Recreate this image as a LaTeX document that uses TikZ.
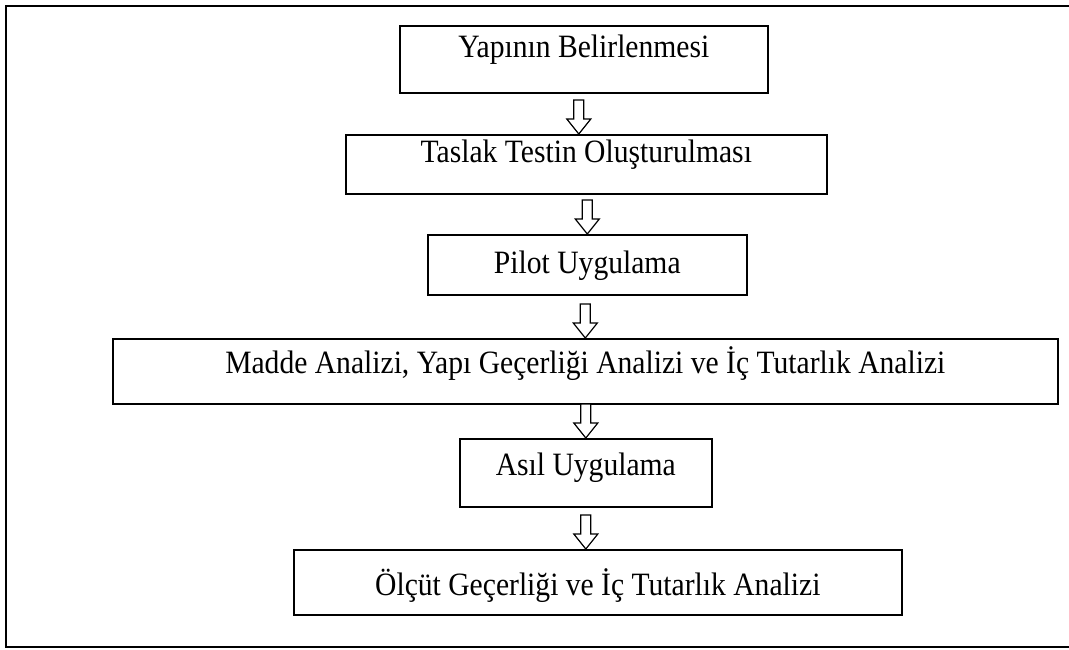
\documentclass[tikz,border=0pt]{standalone}
\usepackage{fontspec}
\setmainfont{Liberation Serif}
\usetikzlibrary{positioning}
\newcommand{\tallline}[1]{\scalebox{1}[1.1]{#1}}

\begin{document}
\begin{tikzpicture}[x=0.5pt, y=-0.5pt,
		stage/.style={draw, line width=0.8pt, inner sep=0pt, anchor=north west, font=\fontsize{14.8}{17}\selectfont},
		hollow/.pic={\draw [line width=0.6pt, fill=white] (0,0) -- (-12,-15) -- (-5,-15) -- (-5,-34) -- (5,-34) -- (5,-15) -- (12,-15) -- cycle;}]
			\useasboundingbox (0,0) rectangle (1069,649);
			\draw [line width=1.1pt] (1080,6) -- (6,6) -- (6,647) -- (1080,647);
			\node [stage, minimum width=184pt, text height=16pt, text depth=17.5pt] (yapi) at (399,25) {\tallline{Yapının Belirlenmesi}};
			\node [stage, minimum width=240.5pt, text height=14pt, text depth=15.5pt] (taslak) at (345,134) {\tallline{Taslak Testin Oluşturulması}};
			\node [stage, minimum width=159.5pt, text height=19.5pt, text depth=10.5pt] (pilot) at (427,234) {\tallline{Pilot Uygulama}};
			\node [stage, minimum width=472.5pt, text height=17.5pt, text depth=15pt] (analiz) at (112,338) {\tallline{Madde Analizi, Yapı Geçerliği Analizi ve İç Tutarlık Analizi}};
			\node [stage, minimum width=126pt, text height=18.5pt, text depth=15.5pt] (asil) at (459,438) {\tallline{Asıl Uygulama}};
			\node [stage, minimum width=304pt, text height=23pt, text depth=9.5pt] (olcut) at (293,549) {\tallline{Ölçüt Geçerliği ve İç Tutarlık Analizi}};
			\pic at ([xshift=-3.75pt]taslak.north) {hollow};
			\pic at (pilot.north) {hollow};
			\pic at (analiz.north) {hollow};
			\pic at (asil.north) {hollow};
			\pic at ([xshift=-6pt]olcut.north) {hollow};
		\end{tikzpicture}
\end{document}
